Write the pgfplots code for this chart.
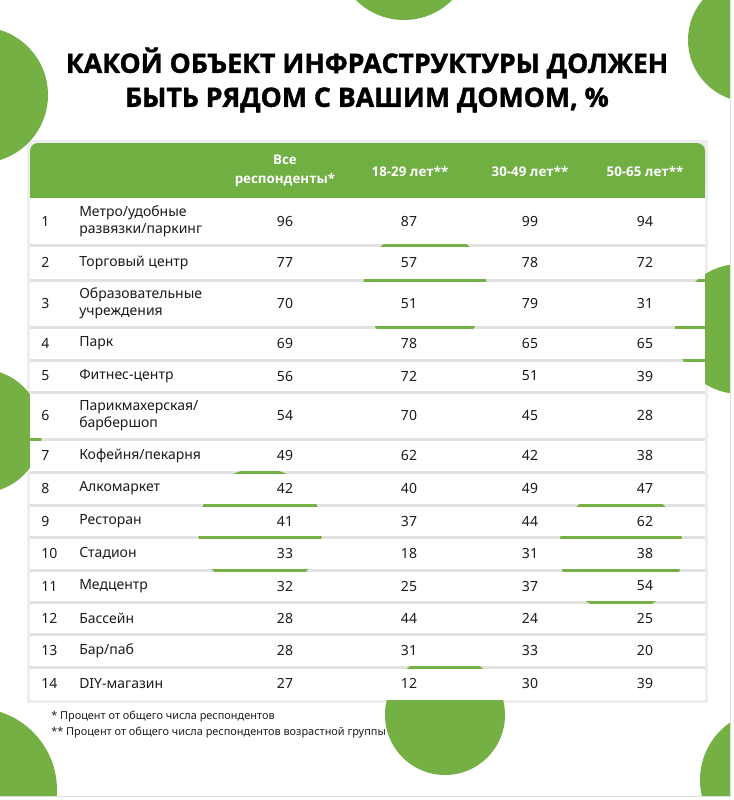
\documentclass[border=0pt]{standalone}
\usepackage{pgfplots}
\pgfplotsset{compat=1.18}
\usepackage{pgfplotstable}
\usepackage{fontspec}
\setmainfont{Noto Sans}
\newfontfamily\titlefont{Open Sans}[BoldFeatures={FakeBold=1.5}]
\newfontfamily\hdrfont{Open Sans}
\definecolor{hdr}{RGB}{112,176,67}
\definecolor{circ}{RGB}{116,176,68}
\definecolor{gap}{RGB}{226,226,226}
\definecolor{txt}{RGB}{28,28,28}

\pgfplotstableread[col sep=semicolon]{
y;n;name;all;a;b;c
221.5;1;{Метро/удобные\\развязки/паркинг};96;87;99;94
262.5;2;{Торговый центр};77;57;78;72
303.5;3;{Образовательные\\учреждения};70;51;79;31
343.5;4;{Парк};69;78;65;65
376;5;{Фитнес-центр};56;72;51;39
415.5;6;{Парикмахерская/\\барбершоп};54;70;45;28
455.5;7;{Кофейня/пекарня};49;62;42;38
488.5;8;{Алкомаркет};42;40;49;47
521;9;{Ресторан};41;37;44;62
553.5;10;{Стадион};33;18;31;38
586;11;{Медцентр};32;25;37;54
618;12;{Бассейн};28;44;24;25
650.5;13;{Бар/паб};28;31;33;20
683.5;14;{DIY-магазин};27;12;30;39
}\datatable

\begin{document}
\begin{tikzpicture}
\begin{axis}[name=ax,
  scale only axis, width=550.5pt, height=600pt,
  xmin=0, xmax=734, ymin=0, ymax=800, y dir=reverse,
  hide axis, clip=false,
  every node near coord/.append style={text=txt},
]
% table shadow / gaps
\fill[gap!60] (axis cs:27,140) rectangle (axis cs:708,703);
\fill[gap] (axis cs:30,198) rectangle (axis cs:705,700);
% circles
\begin{scope}
\clip (axis cs:0,0) rectangle (axis cs:734,800);
\fill[circ] (axis cs:404,-48) circle[radius=51pt];
\fill[circ] (axis cs:750,40) circle[radius=46.5pt];
\fill[circ] (axis cs:-20,95) circle[radius=51pt];
\fill[circ] (axis cs:740,329) circle[radius=48.75pt];
\fill[circ] (axis cs:-20,431) circle[radius=46.5pt];
\fill[circ] (axis cs:425,290) circle[radius=46.5pt];
\fill[circ] (axis cs:260,530) circle[radius=46.5pt];
\fill[circ] (axis cs:621,550) circle[radius=46.5pt];
\fill[circ] (axis cs:445,715) circle[radius=45pt];
\fill[circ] (axis cs:-25,790) circle[radius=61.5pt];
\fill[circ] (axis cs:770,780) circle[radius=52.5pt];
\end{scope}
% card edge
\fill[white] (axis cs:730.5,0) rectangle (axis cs:734,800);
\fill[white] (axis cs:0,796) rectangle (axis cs:734,800);
\draw[gray!25, line width=0.6pt] (axis cs:730.5,0) -- (axis cs:730.5,796) -- (axis cs:0,796);
% header
\fill[hdr, rounded corners=6pt] (axis cs:30,143) rectangle (axis cs:705,198);
\fill[hdr] (axis cs:30,170) rectangle (axis cs:705,198);
% white rows
\fill[white] (axis cs:30,198) rectangle (axis cs:705,243.5);
\fill[white] (axis cs:30,246.5) rectangle (axis cs:705,278.5);
\fill[white] (axis cs:30,281.5) rectangle (axis cs:705,325.5);
\fill[white] (axis cs:30,328.5) rectangle (axis cs:705,358.5);
\fill[white] (axis cs:30,361.5) rectangle (axis cs:705,390.5);
\fill[white] (axis cs:30,393.5) rectangle (axis cs:705,437.5);
\fill[white] (axis cs:30,440.5) rectangle (axis cs:705,470.5);
\fill[white] (axis cs:30,473.5) rectangle (axis cs:705,503.5);
\fill[white] (axis cs:30,506.5) rectangle (axis cs:705,535.5);
\fill[white] (axis cs:30,538.5) rectangle (axis cs:705,568.5);
\fill[white] (axis cs:30,571.5) rectangle (axis cs:705,600.5);
\fill[white] (axis cs:30,603.5) rectangle (axis cs:705,632.5);
\fill[white] (axis cs:30,635.5) rectangle (axis cs:705,665.5);
\fill[white] (axis cs:30,668.5) rectangle (axis cs:705,700);
% title
\node[font=\titlefont\bfseries\fontsize{20}{25.5}\selectfont, align=center, text=black]
  at (axis cs:367,80) {КАКОЙ ОБЪЕКТ ИНФРАСТРУКТУРЫ ДОЛЖЕН\\БЫТЬ РЯДОМ С ВАШИМ ДОМОМ, \%};
% header labels
\node[font=\hdrfont\bfseries\fontsize{10}{14.25}\selectfont, align=center, text=white] at (axis cs:285,171) {Все\\респонденты*};
\node[font=\hdrfont\bfseries\fontsize{10}{12}\selectfont, text=white] at (axis cs:410,171) {18-29 лет**};
\node[font=\hdrfont\bfseries\fontsize{10}{12}\selectfont, text=white] at (axis cs:530,171) {30-49 лет**};
\node[font=\hdrfont\bfseries\fontsize{10}{12}\selectfont, text=white] at (axis cs:645,171) {50-65 лет**};
% data
\addplot[draw=none, no marks, point meta=explicit symbolic, nodes near coords={\pgfplotspointmeta},
  nodes near coords style={anchor=west, inner sep=0pt, font=\fontsize{10.5}{12.75}\selectfont}]
  table[x expr=41, y=y, meta=n] {\datatable};
\addplot[draw=none, no marks, point meta=explicit symbolic, nodes near coords={\pgfplotspointmeta},
  nodes near coords style={anchor=west, align=left, inner sep=0pt, font=\fontsize{10.5}{12.75}\selectfont}]
  table[x expr=79, y=y, meta=name] {\datatable};
\addplot[draw=none, no marks, point meta=explicit symbolic, nodes near coords={\pgfplotspointmeta},
  nodes near coords style={anchor=center, inner sep=0pt, font=\fontsize{10.5}{12.75}\selectfont}]
  table[x expr=285, y=y, meta=all] {\datatable};
\addplot[draw=none, no marks, point meta=explicit symbolic, nodes near coords={\pgfplotspointmeta},
  nodes near coords style={anchor=center, inner sep=0pt, font=\fontsize{10.5}{12.75}\selectfont}]
  table[x expr=409, y=y, meta=a] {\datatable};
\addplot[draw=none, no marks, point meta=explicit symbolic, nodes near coords={\pgfplotspointmeta},
  nodes near coords style={anchor=center, inner sep=0pt, font=\fontsize{10.5}{12.75}\selectfont}]
  table[x expr=530, y=y, meta=b] {\datatable};
\addplot[draw=none, no marks, point meta=explicit symbolic, nodes near coords={\pgfplotspointmeta},
  nodes near coords style={anchor=center, inner sep=0pt, font=\fontsize{10.5}{12.75}\selectfont}]
  table[x expr=645, y=y, meta=c] {\datatable};
% footnotes
\node[anchor=west, inner sep=0pt, font=\fontsize{8.2}{9}\selectfont, text=txt] at (axis cs:51,717) {* Процент от общего числа респондентов};
\node[anchor=west, inner sep=0pt, font=\fontsize{8.2}{9}\selectfont, text=txt] at (axis cs:51,733) {** Процент от общего числа респондентов возрастной группы};
\end{axis}
\pgfresetboundingbox
\path[use as bounding box] (ax.south west) rectangle (ax.north east);
\end{tikzpicture}
\end{document}
